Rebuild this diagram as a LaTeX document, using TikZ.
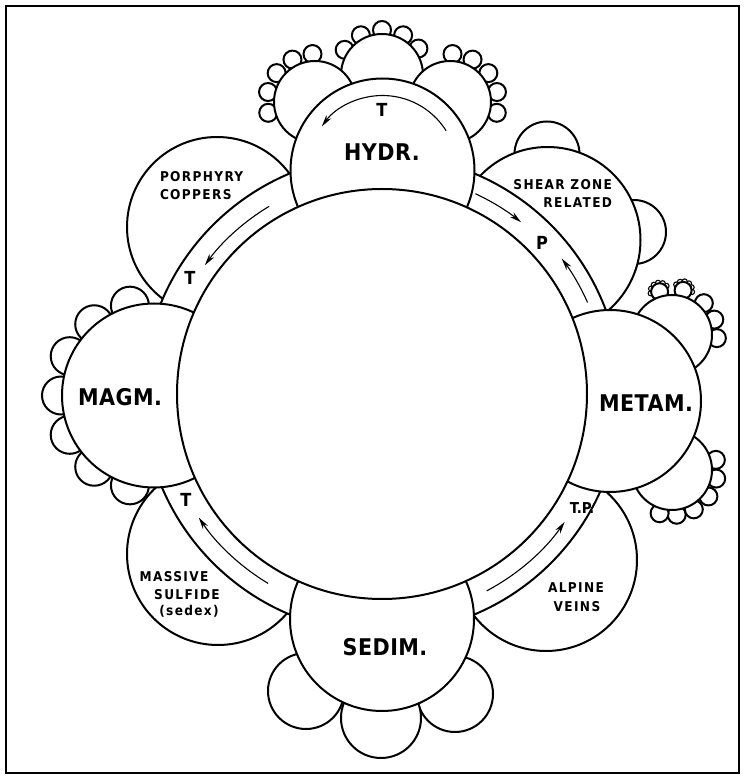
\documentclass[tikz,border=0pt]{standalone}
\usepackage{fontspec}
\setmainfont{DejaVu Sans Condensed}
\newfontfamily\lblfont[LetterSpace=10]{DejaVu Sans Condensed}
\newfontfamily\bigfont[LetterSpace=2]{DejaVu Sans Condensed}
\usetikzlibrary{arrows.meta,calc}
\begin{document}
\begin{tikzpicture}[x=1pt,y=1pt,line width=2pt,
  circ/.style={draw=black,fill=white},
  tiny/.style={draw=black,fill=white,line width=1.1pt},
  arr/.style={line width=1.1pt,-{Stealth[length=12pt,width=6pt]}},
  biglbl/.style={inner sep=0pt,font=\fontsize{23}{24}\selectfont\bigfont\bfseries},
  smalllbl/.style={inner sep=0pt,font=\fontsize{13.5}{16}\selectfont\lblfont\bfseries},
  letterlbl/.style={inner sep=0pt,font=\fontsize{18}{18}\selectfont\bfseries}]
\useasboundingbox (0,0) rectangle (746,780);
\draw (6,7) rectangle (739,774);
% centres
\coordinate (C) at (382,386);
\coordinate (H) at (382.5,609.5);
\coordinate (S) at (382,161);
\coordinate (M) at (154,384.5);
\coordinate (E) at (610,379);
\coordinate (PC) at (217,553);
\coordinate (SZ) at (547.5,540);
\coordinate (AV) at (546,220);
\coordinate (MS) at (218,226);
% HYDR clusters
\coordinate (Hm) at (382,705);
\coordinate (Hl) at (315,678);
\coordinate (Hr) at (450,678);
\foreach \a in {36,62,90,118,146} \draw[circ] ($(Hm)+(\a:45)$) circle[radius=9];
\foreach \a in {93,118,143,168,193} \draw[circ] ($(Hl)+(\a:48)$) circle[radius=9];
\foreach \a in {87,62,37,12,-13} \draw[circ] ($(Hr)+(\a:48)$) circle[radius=9];
\foreach \p in {Hm,Hl,Hr} \draw[circ] (\p) circle[radius=41];
% SEDIM clusters
\draw[circ] (306,89) circle[radius=38];
\draw[circ] (455,86) circle[radius=38];
\draw[circ] (381,62) circle[radius=40];
% MAGM small circles
\foreach \a in {105,130,...,255} \draw[circ] ($(M)+(\a:93)$) circle[radius=19];
% METAM clusters
\coordinate (Eu) at (672,445);
\coordinate (El) at (672,310);
\coordinate (Ua) at ($(Eu)+(106:45)$);
\coordinate (Ub) at ($(Eu)+(76:46)$);
\foreach \a in {40,70,100,130,160,190} \draw[tiny] ($(Ua)+(\a:9)$) circle[radius=2.6];
\foreach \a in {-10,20,50,80,110,140} \draw[tiny] ($(Ub)+(\a:9)$) circle[radius=2.6];
\foreach \p in {Ua,Ub} \draw[circ] (\p) circle[radius=8.5];
\foreach \a in {-4,20,45} \draw[circ] ($(Eu)+(\a:45)$) circle[radius=9];
\draw[circ] (Eu) circle[radius=40];
\foreach \a in {13,-11,-36,-61,-84,-106} \draw[circ] ($(El)+(\a:45)$) circle[radius=9];
\draw[circ] (El) circle[radius=40];
% SHEAR ZONE small circles
\draw[circ] (547,626) circle[radius=32.5];
\draw[circ] (634,548) circle[radius=32];
% diagonal circles
\draw[circ] (PC) circle[radius=90];
\draw[circ] (SZ) circle[radius=93];
\draw[circ] (AV) circle[radius=91];
\draw[circ] (MS) circle[radius=91];
% band
\draw[circ] (C) circle[radius=239];
% big circles
\draw[circ] (H) circle[radius=92];
\draw[circ] (S) circle[radius=92];
\draw[circ] (M) circle[radius=92];
\draw[circ] (E) circle[radius=91];
% central circle
\draw[circ] (C) circle[radius=205];
% arrows
\draw[arr] ($(H)+(32:75)$) arc[start angle=32,end angle=144,radius=75];
\draw[arr] ($(C)+(121:219)$) arc[start angle=121,end angle=144,radius=219];
\draw[arr] ($(C)+(65:221)$) arc[start angle=65,end angle=51,radius=221];
\draw[arr] ($(C)+(24:225)$) arc[start angle=24,end angle=37,radius=225];
\draw[arr] ($(C)+(239:221)$) arc[start angle=239,end angle=214,radius=221];
\draw[arr] ($(C)+(298:223)$) arc[start angle=298,end angle=325,radius=223];
% labels
\node[biglbl] (hydr) at (382,628) {HYDR.};
\node[biglbl] (sedim) at (385,133) {SEDIM.};
\node[biglbl] (magm) at (120,383) {MAGM.};
\node[biglbl] (metam) at (646,377) {METAM.};
\node[smalllbl,anchor=west] (porph) at (159,603) {PORPHYRY};
\node[smalllbl,anchor=west] (copp) at (159,585) {COPPERS};
\node[smalllbl,anchor=east] (shear) at (613,595) {SHEAR ZONE};
\node[smalllbl,anchor=east] (rel) at (613,577) {RELATED};
\node[smalllbl] (alp) at (576,192) {ALPINE};
\node[smalllbl] (veins) at (577,173) {VEINS};
\node[smalllbl] (mass) at (174,203) {MASSIVE};
\node[smalllbl] (sulf) at (187,185) {SULFIDE};
\node[smalllbl] (sedex) at (189,169) {(sedex)};
\node[letterlbl] (t1) at (382,670) {T};
\node[letterlbl] (t2) at (190,502) {T};
\node[letterlbl] (p1) at (542,537) {P};
\node[letterlbl] (t3) at (186,280) {T};
\node[letterlbl,font=\fontsize{15}{15}\selectfont\bfseries] (tp) at (582,272) {T.P.};
\end{tikzpicture}
\end{document}
